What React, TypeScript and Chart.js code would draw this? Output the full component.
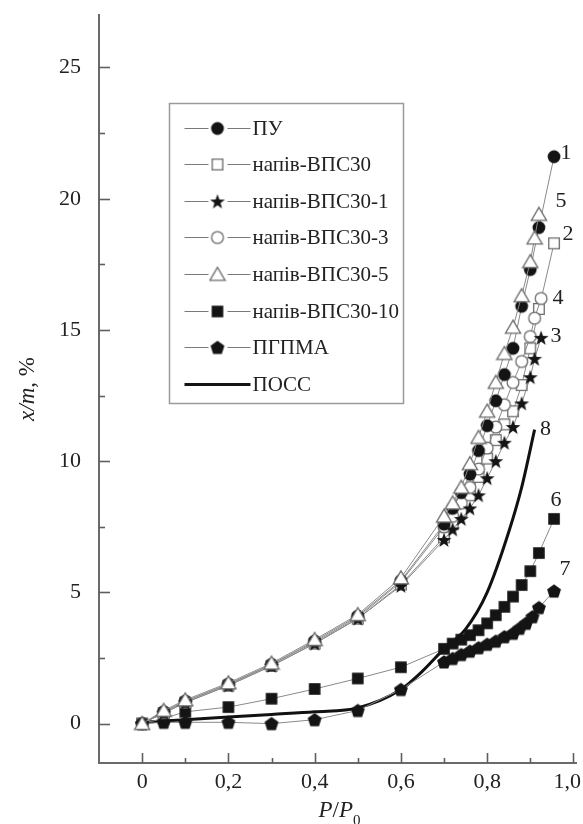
import React, { useEffect, useRef } from 'react';
import { Chart, registerables } from 'chart.js';

Chart.register(...registerables);

const FONT = "'Liberation Serif', 'Times New Roman', serif";

// ---- data ----
const seriesNames = ['ПУ', 'напів-ВПС30', 'напів-ВПС30-1', 'напів-ВПС30-3', 'напів-ВПС30-5', 'напів-ВПС30-10', 'ПГПМА', 'ПОСС'];
const curveNumbers = ['1', '2', '3', '4', '5', '6', '7', '8'];

const xPU = [0, 0.05, 0.1, 0.2, 0.3, 0.4, 0.5, 0.6, 0.7, 0.72, 0.74, 0.76, 0.78, 0.8, 0.82, 0.84, 0.86, 0.88, 0.9, 0.92, 0.955];
const yPU = [0, 0.45, 0.85, 1.5, 2.25, 3.15, 4.1, 5.45, 7.6, 8.2, 8.8, 9.5, 10.4, 11.35, 12.3, 13.3, 14.3, 15.9, 17.3, 18.9, 21.6];

const xVPS30 = [0, 0.05, 0.1, 0.2, 0.3, 0.4, 0.5, 0.6, 0.7, 0.72, 0.74, 0.76, 0.78, 0.8, 0.82, 0.84, 0.86, 0.88, 0.9, 0.92, 0.955];
const yVPS30 = [0, 0.4, 0.8, 1.45, 2.2, 3.05, 4.0, 5.3, 7.1, 7.6, 8.1, 8.7, 9.4, 10.1, 10.8, 11.4, 11.9, 12.9, 14.3, 15.8, 18.3];

const xVPS30_1 = [0, 0.05, 0.1, 0.2, 0.3, 0.4, 0.5, 0.6, 0.7, 0.72, 0.74, 0.76, 0.78, 0.8, 0.82, 0.84, 0.86, 0.88, 0.9, 0.91, 0.925];
const yVPS30_1 = [0, 0.4, 0.8, 1.45, 2.2, 3.05, 4.0, 5.25, 7.0, 7.4, 7.8, 8.2, 8.7, 9.35, 10.0, 10.7, 11.3, 12.2, 13.2, 13.9, 14.7];

const xVPS30_3 = [0, 0.05, 0.1, 0.2, 0.3, 0.4, 0.5, 0.6, 0.7, 0.72, 0.74, 0.76, 0.78, 0.8, 0.82, 0.84, 0.86, 0.88, 0.9, 0.91, 0.925];
const yVPS30_3 = [0, 0.45, 0.85, 1.5, 2.25, 3.1, 4.05, 5.4, 7.5, 7.9, 8.4, 9.0, 9.7, 10.5, 11.3, 12.15, 13.0, 13.8, 14.75, 15.45, 16.2];

const xVPS30_5 = [0, 0.05, 0.1, 0.2, 0.3, 0.4, 0.5, 0.6, 0.7, 0.72, 0.74, 0.76, 0.78, 0.8, 0.82, 0.84, 0.86, 0.88, 0.9, 0.91, 0.92];
const yVPS30_5 = [0, 0.5, 0.9, 1.55, 2.3, 3.2, 4.15, 5.55, 7.9, 8.4, 9.0, 9.9, 10.9, 11.9, 13.0, 14.1, 15.1, 16.3, 17.6, 18.5, 19.4];

const xVPS30_10 = [0, 0.05, 0.1, 0.2, 0.3, 0.4, 0.5, 0.6, 0.7, 0.72, 0.74, 0.76, 0.78, 0.8, 0.82, 0.84, 0.86, 0.88, 0.9, 0.92, 0.955];
const yVPS30_10 = [0, 0.2, 0.45, 0.63, 0.95, 1.32, 1.72, 2.15, 2.85, 3.05, 3.2, 3.37, 3.56, 3.82, 4.13, 4.45, 4.84, 5.28, 5.81, 6.5, 7.8];

const xPGPMA = [0, 0.05, 0.1, 0.2, 0.3, 0.4, 0.5, 0.6, 0.7, 0.72, 0.74, 0.76, 0.78, 0.8, 0.82, 0.84, 0.86, 0.875, 0.89, 0.905, 0.92, 0.955];
const yPGPMA = [0, 0.05, 0.05, 0.05, 0, 0.15, 0.5, 1.3, 2.35, 2.48, 2.63, 2.76, 2.89, 3.02, 3.14, 3.31, 3.44, 3.63, 3.82, 4.07, 4.42, 5.05];

const xPOSS = [0, 0.1, 0.2, 0.3, 0.4, 0.5, 0.6, 0.65, 0.7, 0.75, 0.8, 0.85, 0.88, 0.91];
const yPOSS = [0.05, 0.15, 0.25, 0.35, 0.45, 0.6, 1.3, 2.0, 2.85, 3.6, 5.0, 7.3, 9.0, 11.2];

const yTickValues = [0, 5, 10, 15, 20, 25];
const yMinorTickValues = [2.5, 7.5, 12.5, 17.5, 22.5];
const xTickValues = [0, 0.2, 0.4, 0.6, 0.8, 1.0];
const xTickLabels = ['0', '0,2', '0,4', '0,6', '0,8', '1,0'];
const xMinorTickValues = [0.1, 0.3, 0.5, 0.7, 0.9];

// ---- markers ----
type MarkerKind = 'circleFilled' | 'squareOpen' | 'starFilled' | 'circleOpen' | 'triangleOpen' | 'squareFilled' | 'pentagonFilled';

function makeMarker(kind: MarkerKind): HTMLCanvasElement {
  const s = 18;
  const c = document.createElement('canvas');
  c.width = s;
  c.height = s;
  const g = c.getContext('2d')!;
  const m = s / 2;
  const poly = (pts: number[][]) => {
    g.beginPath();
    pts.forEach(([px, py], i) => (i ? g.lineTo(px, py) : g.moveTo(px, py)));
    g.closePath();
  };
  const radial = (n: number, rOut: number, rIn?: number) => {
    const pts: number[][] = [];
    const count = rIn ? n * 2 : n;
    for (let i = 0; i < count; i++) {
      const r = rIn && i % 2 === 1 ? rIn : rOut;
      const a = -Math.PI / 2 + (i * 2 * Math.PI) / count;
      pts.push([m + r * Math.cos(a), m + r * Math.sin(a) + (rIn ? 0.6 : 0.5)]);
    }
    return pts;
  };
  g.fillStyle = '#141414';
  g.strokeStyle = '#6c6c6c';
  g.lineWidth = 1.3;
  switch (kind) {
    case 'circleFilled':
      g.beginPath();
      g.arc(m, m, 6.4, 0, Math.PI * 2);
      g.fill();
      break;
    case 'circleOpen':
      g.beginPath();
      g.arc(m, m, 5.9, 0, Math.PI * 2);
      g.fillStyle = '#fff';
      g.fill();
      g.stroke();
      break;
    case 'squareOpen':
      g.beginPath();
      g.rect(m - 5.3, m - 5.3, 10.6, 10.6);
      g.fillStyle = '#fff';
      g.fill();
      g.stroke();
      break;
    case 'squareFilled':
      g.fillRect(m - 5.8, m - 5.8, 11.6, 11.6);
      break;
    case 'triangleOpen':
      poly([[m, m - 7.2], [m + 7.6, m + 5.8], [m - 7.6, m + 5.8]]);
      g.fillStyle = '#fff';
      g.fill();
      g.stroke();
      break;
    case 'starFilled':
      poly(radial(5, 7.8, 3.2));
      g.fill();
      break;
    case 'pentagonFilled':
      poly(radial(5, 7.3));
      g.fill();
      break;
  }
  return c;
}

const labelOffsets = [[12, -4], [14, -9], [15, -2], [17, 0], [22, -13], [2, -19], [11, -22], [11, 0]];

const decorPlugin = {
  id: 'decor',
  beforeDatasetsDraw(chart: any) {
    const { ctx, chartArea: a, scales } = chart;
    const x = scales.x;
    const y = scales.y;
    ctx.save();
    ctx.strokeStyle = '#5e5e5e';
    ctx.lineWidth = 1.6;
    const line = (x1: number, y1: number, x2: number, y2: number) => {
      ctx.beginPath();
      ctx.moveTo(x1, y1);
      ctx.lineTo(x2, y2);
      ctx.stroke();
    };
    yTickValues.forEach((v) => {
      const py = Math.round(y.getPixelForValue(v)) + 0.5;
      line(a.left, py, a.left + 11, py);
    });
    yMinorTickValues.forEach((v) => {
      const py = Math.round(y.getPixelForValue(v)) + 0.5;
      line(a.left, py, a.left + 6, py);
    });
    xTickValues.forEach((v) => {
      const px = Math.round(x.getPixelForValue(v)) + 0.5;
      line(px, a.bottom, px, a.bottom - 10);
    });
    xMinorTickValues.forEach((v) => {
      const px = Math.round(x.getPixelForValue(v)) + 0.5;
      line(px, a.bottom, px, a.bottom - 5);
    });
    ctx.restore();
  },
  afterDraw(chart: any) {
    const { ctx, chartArea: a, scales, data } = chart;
    const x = scales.x;
    const y = scales.y;
    ctx.save();
    // x tick labels
    ctx.fillStyle = '#222';
    ctx.font = `22px ${FONT}`;
    ctx.textBaseline = 'middle';
    ctx.textAlign = 'left';
    xTickValues.forEach((v, i) => {
      const t = xTickLabels[i];
      const w = ctx.measureText(t).width;
      let left = x.getPixelForValue(v) - w / 2;
      if (left + w > chart.width - 2) left = chart.width - 2 - w;
      ctx.fillText(t, left, a.bottom + 19);
    });

    // y axis title
    const drawPieces = (pieces: { t: string; f: string; dy?: number }[], cx: number, cy: number) => {
      let total = 0;
      pieces.forEach((p) => {
        ctx.font = p.f;
        total += ctx.measureText(p.t).width;
      });
      let px = cx - total / 2;
      pieces.forEach((p) => {
        ctx.font = p.f;
        ctx.fillText(p.t, px, cy + (p.dy || 0));
        px += ctx.measureText(p.t).width;
      });
    };
    ctx.textBaseline = 'alphabetic';
    ctx.save();
    ctx.translate(34, (a.top + a.bottom) / 2);
    ctx.rotate(-Math.PI / 2);
    drawPieces(
      [
        { t: 'x', f: `italic 23px ${FONT}` },
        { t: '/', f: `italic 23px ${FONT}` },
        { t: 'm', f: `italic 23px ${FONT}` },
        { t: ', %', f: `23px ${FONT}` },
      ],
      0,
      0
    );
    ctx.restore();
    // x axis title
    drawPieces(
      [
        { t: 'P', f: `italic 23px ${FONT}` },
        { t: '/', f: `23px ${FONT}` },
        { t: 'P', f: `italic 23px ${FONT}` },
        { t: '0', f: `15px ${FONT}`, dy: 8 },
      ],
      (a.left + a.right) / 2 + 2,
      817
    );

    // curve labels
    ctx.font = `22px ${FONT}`;
    ctx.textAlign = 'center';
    ctx.textBaseline = 'middle';
    data.datasets.forEach((ds: any, i: number) => {
      const last = ds.data[ds.data.length - 1];
      const px = x.getPixelForValue(last.x) + labelOffsets[i][0];
      const py = y.getPixelForValue(last.y) + labelOffsets[i][1];
      ctx.fillText(ds.curveLabel, px, py);
    });

    // legend
    const bx = a.left + 70.5;
    const by = a.top + 88.5;
    const bw = 234;
    const bh = 300;
    ctx.fillStyle = '#fff';
    ctx.fillRect(bx, by, bw, bh);
    ctx.strokeStyle = '#9a9a9a';
    ctx.lineWidth = 1.5;
    ctx.strokeRect(bx, by, bw, bh);
    ctx.font = `21px ${FONT}`;
    ctx.textAlign = 'left';
    ctx.textBaseline = 'middle';
    data.datasets.forEach((ds: any, i: number) => {
      const ry = Math.round(by + 24 + i * 36.6) + 0.5;
      const lx = bx + 15;
      if (ds.marker) {
        ctx.strokeStyle = '#7a7a7a';
        ctx.lineWidth = 1.2;
        ctx.beginPath();
        ctx.moveTo(lx, ry);
        ctx.lineTo(lx + 24, ry);
        ctx.moveTo(lx + 43, ry);
        ctx.lineTo(lx + 66, ry);
        ctx.stroke();
        const mk = ds.marker as HTMLCanvasElement;
        ctx.drawImage(mk, lx + 33 - mk.width / 2, ry - mk.height / 2);
      } else {
        ctx.strokeStyle = '#151515';
        ctx.lineWidth = 3;
        ctx.beginPath();
        ctx.moveTo(lx, ry);
        ctx.lineTo(lx + 66, ry);
        ctx.stroke();
      }
      ctx.fillStyle = '#222';
      ctx.fillText(ds.label, lx + 68, ry + 1);
    });
    ctx.restore();
  },
};

const toPoints = (xs: number[], ys: number[]) => xs.map((v, i) => ({ x: v, y: ys[i] }));

export default function App() {
  const ref = useRef<HTMLCanvasElement>(null);
  useEffect(() => {
    const canvas = ref.current;
    if (!canvas) return;
    const kinds: MarkerKind[] = ['circleFilled', 'squareOpen', 'starFilled', 'circleOpen', 'triangleOpen', 'squareFilled', 'pentagonFilled'];
    const xs = [xPU, xVPS30, xVPS30_1, xVPS30_3, xVPS30_5, xVPS30_10, xPGPMA];
    const ys = [yPU, yVPS30, yVPS30_1, yVPS30_3, yVPS30_5, yVPS30_10, yPGPMA];
    const drawOrder = [2, 5, 3, 4, 1, 6, 7];
    const datasets: any[] = kinds.map((k, i) => {
      const mk = makeMarker(k);
      return {
        label: seriesNames[i],
        curveLabel: curveNumbers[i],
        marker: mk,
        data: toPoints(xs[i], ys[i]),
        showLine: true,
        borderColor: '#8a8a8a',
        borderWidth: 1,
        pointStyle: mk,
        pointRadius: 6,
        order: drawOrder[i],
      };
    });
    datasets.push({
      label: seriesNames[7],
      curveLabel: curveNumbers[7],
      marker: null,
      data: toPoints(xPOSS, yPOSS),
      showLine: true,
      borderColor: '#111',
      borderWidth: 3,
      pointRadius: 0,
      cubicInterpolationMode: 'monotone',
      order: 8,
    });

    const chart = new Chart(canvas, {
      type: 'scatter',
      data: { datasets },
      options: {
        animation: false,
        responsive: false,
        events: [],
        layout: { padding: { top: 15, right: 1, left: 0, bottom: 0 } },
        plugins: { legend: { display: false }, tooltip: { enabled: false } },
        scales: {
          x: {
            type: 'linear',
            min: -0.1,
            max: 1.006,
            grid: { display: false, drawTicks: false },
            border: { display: true, color: '#6a6a6a', width: 2 },
            ticks: { display: false },
            afterFit: (s: any) => {
              s.height = 61;
              s.paddingLeft = 0;
              s.paddingRight = 0;
            },
          },
          y: {
            type: 'linear',
            min: -1.5,
            max: 27,
            grid: { display: false, drawTicks: false },
            border: { display: true, color: '#6a6a6a', width: 2 },
            ticks: { font: { family: FONT, size: 22 }, color: '#222', padding: 18 },
            afterBuildTicks: (s: any) => {
              s.ticks = yTickValues.map((v) => ({ value: v }));
            },
            afterFit: (s: any) => {
              s.width = 99;
              s.paddingTop = 0;
              s.paddingBottom = 0;
            },
          },
        },
      } as any,
      plugins: [decorPlugin],
    });
    return () => chart.destroy();
  }, []);

  return (
    <div style={{ position: 'absolute', left: 0, top: 0, width: 583, height: 824, background: '#fff' }}>
      <canvas ref={ref} width={583} height={824} style={{ display: 'block' }} />
    </div>
  );
}
